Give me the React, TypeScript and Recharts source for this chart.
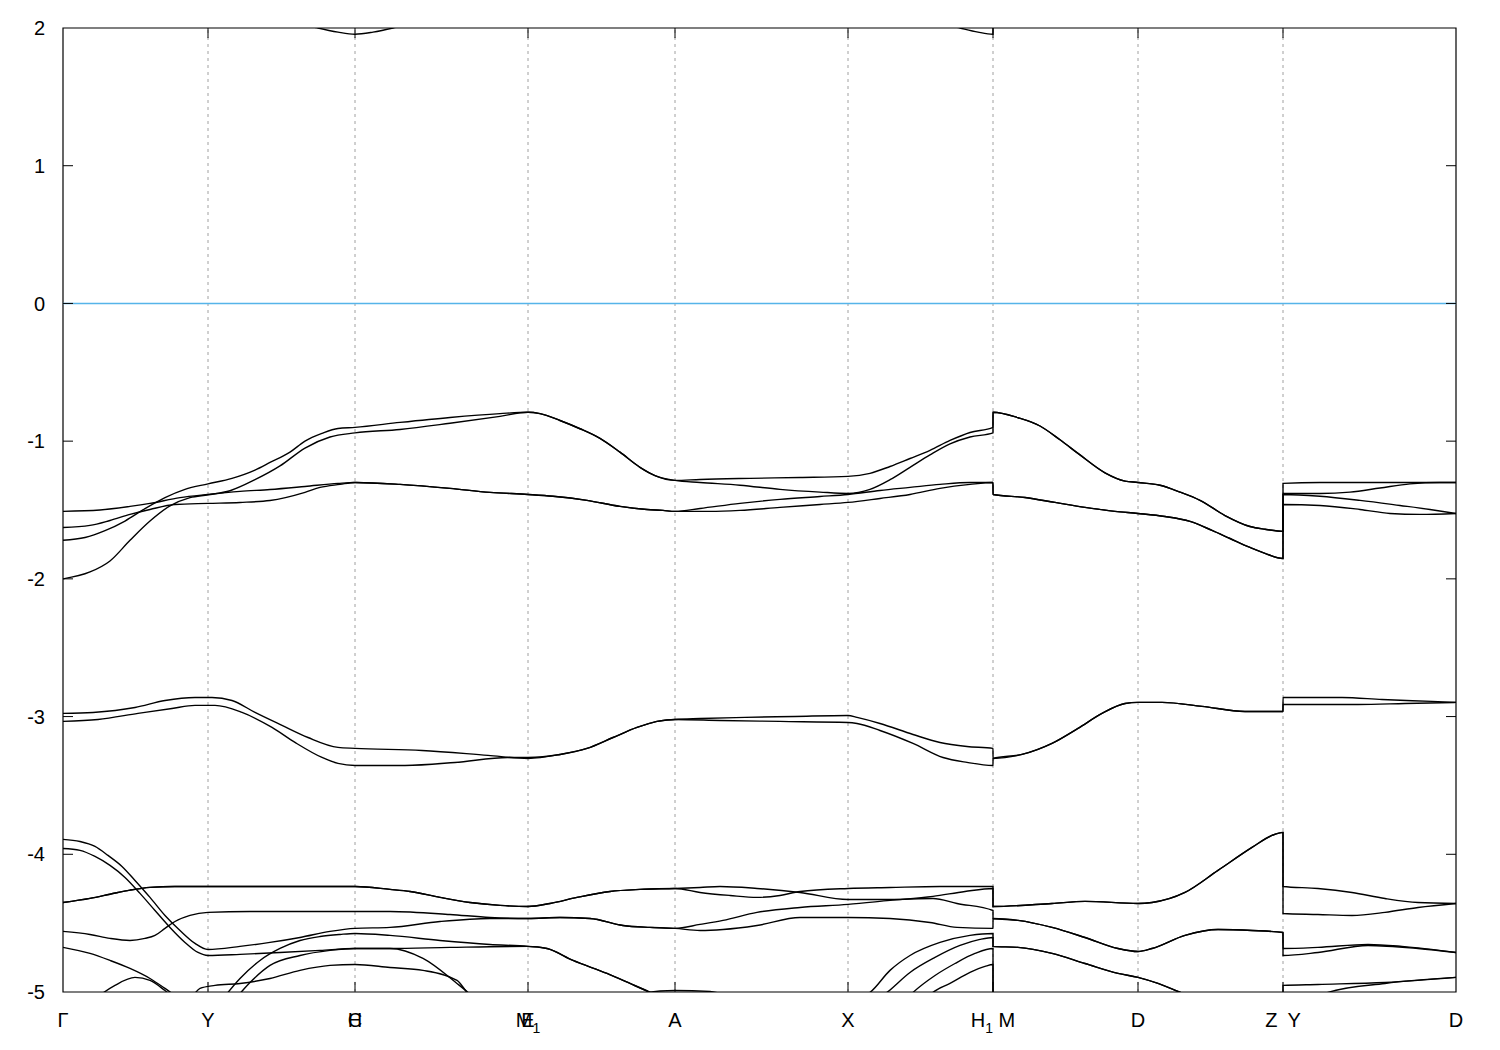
import { LineChart, Line, XAxis, YAxis, ReferenceLine, ReferenceArea } from "recharts";

type Pt = [number, number];

const FONT = '"Liberation Sans", Arial, Helvetica, sans-serif';

// puntos de alta simetría sobre el camino (distancia k, unidades arbitrarias)
const K_POINTS = [0, 1.45, 2.92, 4.65, 6.12, 7.85, 9.3, 10.75, 12.2, 13.93];
// dos etiquetas en el mismo punto se dibujan encimadas, igual que en el original
const K_LABELS: string[][] = [
  ["Γ"], ["Y"], ["H", "C"], ["E", "M_1"], ["A"], ["X"], ["H_1\u00a0M"], ["D"], ["Z\u2002Y"], ["D"],
];
const E_TICKS = [-5, -4, -3, -2, -1, 0, 1, 2];
const K_MAX = 13.93;

// banda de conducción (apenas asoma arriba)
const CB1: Pt[] = [
  [0, 2.9], [1.45, 2.45], [2.3, 2.05], [2.55, 2.0], [2.75, 1.97], [2.92, 1.955], [3.1, 1.97], [3.3, 2.0],
  [3.55, 2.05], [4.65, 2.5], [6.12, 2.7], [7.85, 2.4], [8.7, 2.05], [8.97, 2.0], [9.15, 1.97], [9.3, 1.955],
  [9.3, 2.55], [10.75, 2.75], [12.2, 2.9], [12.2, 2.85], [13.93, 2.75],
];

// grupo de valencia entre -0.8 y -2
const V_MA_UP: Pt[] = [[4.77, -0.8], [4.97, -0.85], [5.17, -0.91], [5.37, -0.98], [5.57, -1.08], [5.77, -1.19], [5.92, -1.25], [6.12, -1.285]];
const V_MDZ_UP: Pt[] = [
  [9.3, -0.79], [9.55, -0.83], [9.77, -0.89], [9.97, -0.99], [10.17, -1.1], [10.42, -1.23], [10.62, -1.29], [10.75, -1.3],
  [10.97, -1.32], [11.17, -1.37], [11.37, -1.43], [11.62, -1.54], [11.87, -1.62], [12.02, -1.64], [12.2, -1.655],
];
const V_CMA_LO: Pt[] = [[3.37, -1.314], [3.87, -1.343], [4.27, -1.372], [4.65, -1.387], [4.9, -1.4], [5.24, -1.43], [5.57, -1.474], [5.84, -1.496], [6.0, -1.503], [6.12, -1.51]];
const V_MDZ_LO: Pt[] = [
  [9.3, -1.387], [9.62, -1.409], [9.92, -1.445], [10.22, -1.481], [10.52, -1.51], [10.75, -1.525], [11.02, -1.547],
  [11.27, -1.583], [11.49, -1.648], [11.67, -1.707], [11.87, -1.772], [12.02, -1.815], [12.2, -1.852],
];

const VB1: Pt[] = [
  [0, -2.0], [0.27, -1.95], [0.47, -1.87], [0.67, -1.72], [0.87, -1.58], [1.07, -1.47], [1.27, -1.41], [1.45, -1.39],
  [1.67, -1.36], [1.92, -1.28], [2.17, -1.18], [2.42, -1.05], [2.67, -0.97], [2.92, -0.94],
  [3.37, -0.915], [3.87, -0.87], [4.37, -0.82], [4.65, -0.79],
  ...V_MA_UP,
  [6.37, -1.3], [6.77, -1.32], [7.17, -1.35], [7.57, -1.37], [7.85, -1.38],
  [8.07, -1.35], [8.27, -1.28], [8.47, -1.19], [8.67, -1.1], [8.87, -1.02], [9.07, -0.97], [9.3, -0.94],
  ...V_MDZ_UP,
  [12.2, -1.38], [12.57, -1.38], [12.87, -1.37], [13.17, -1.34], [13.47, -1.31], [13.77, -1.3], [13.93, -1.3],
];
const VB2: Pt[] = [
  [0, -1.72], [0.22, -1.7], [0.42, -1.65], [0.62, -1.58], [0.82, -1.49], [1.02, -1.41], [1.22, -1.35], [1.45, -1.31],
  [1.69, -1.27], [1.92, -1.21], [2.07, -1.155], [2.27, -1.08], [2.42, -1.0], [2.59, -0.944], [2.75, -0.908], [2.92, -0.9],
  [3.37, -0.864], [3.87, -0.828], [4.37, -0.8], [4.65, -0.79],
  ...V_MA_UP,
  [6.37, -1.278], [6.87, -1.27], [7.37, -1.264], [7.85, -1.256],
  [8.07, -1.234], [8.27, -1.184], [8.47, -1.126], [8.67, -1.067], [8.87, -0.995], [9.07, -0.937], [9.3, -0.9],
  ...V_MDZ_UP,
  [12.2, -1.307], [12.57, -1.3], [13.37, -1.3], [13.93, -1.3],
];
const VB3: Pt[] = [
  [0, -1.51], [0.37, -1.5], [0.67, -1.474], [0.87, -1.452], [1.17, -1.41], [1.45, -1.387],
  [1.77, -1.365], [2.07, -1.351], [2.42, -1.329], [2.75, -1.307], [2.92, -1.3],
  ...V_CMA_LO,
  [6.37, -1.489], [6.77, -1.452], [7.17, -1.423], [7.57, -1.402], [7.85, -1.387],
  [8.17, -1.358], [8.47, -1.336], [8.77, -1.314], [9.07, -1.3], [9.3, -1.3],
  ...V_MDZ_LO,
  [12.2, -1.387], [12.57, -1.4], [12.97, -1.43], [13.37, -1.467], [13.67, -1.496], [13.93, -1.525],
];
const VB4: Pt[] = [
  [0, -1.627], [0.27, -1.612], [0.47, -1.576], [0.67, -1.532], [0.87, -1.496], [1.12, -1.46], [1.45, -1.452],
  [1.77, -1.445], [2.07, -1.431], [2.42, -1.372], [2.57, -1.336], [2.77, -1.314], [2.92, -1.3],
  ...V_CMA_LO,
  [6.47, -1.51], [6.77, -1.503], [7.17, -1.481], [7.57, -1.46], [7.85, -1.445],
  [8.17, -1.416], [8.47, -1.387], [8.77, -1.343], [9.07, -1.314], [9.3, -1.3],
  ...V_MDZ_LO,
  [12.2, -1.46], [12.57, -1.467], [12.97, -1.496], [13.27, -1.525], [13.57, -1.532], [13.93, -1.525],
];

// grupo alrededor de -3
const V_MA_3: Pt[] = [[4.97, -3.275], [5.24, -3.231], [5.5, -3.152], [5.74, -3.079], [5.94, -3.035], [6.12, -3.021]];
const V_MDZ_3: Pt[] = [
  [9.3, -3.304], [9.59, -3.275], [9.89, -3.195], [10.15, -3.086], [10.39, -2.977], [10.62, -2.905], [10.75, -2.897],
  [10.99, -2.897], [11.39, -2.926], [11.82, -2.963], [12.2, -2.963],
];
const VB5: Pt[] = [
  [0, -2.977], [0.3, -2.97], [0.72, -2.934], [1.02, -2.883], [1.32, -2.861], [1.49, -2.861],
  [1.69, -2.883], [1.92, -2.97], [2.19, -3.064], [2.45, -3.152], [2.75, -3.224], [2.92, -3.231],
  [3.59, -3.246], [4.25, -3.282], [4.65, -3.304],
  ...V_MA_3,
  [6.37, -3.014], [6.82, -3.006], [7.32, -2.999], [7.85, -2.992],
  [7.94, -3.006], [8.17, -3.05], [8.5, -3.13], [8.77, -3.188], [9.04, -3.217], [9.3, -3.231],
  ...V_MDZ_3,
  [12.2, -2.861], [12.79, -2.861], [13.19, -2.876], [13.69, -2.89], [13.93, -2.897],
];
const VB6: Pt[] = [
  [0, -3.035], [0.35, -3.021], [0.75, -2.977], [1.09, -2.941], [1.32, -2.919], [1.52, -2.919],
  [1.79, -2.97], [2.09, -3.079], [2.32, -3.188], [2.59, -3.297], [2.75, -3.34], [2.92, -3.355],
  [3.42, -3.355], [3.92, -3.333], [4.45, -3.297], [4.65, -3.297],
  ...V_MA_3,
  [6.57, -3.028], [7.17, -3.035], [7.85, -3.043],
  [7.94, -3.05], [8.17, -3.101], [8.5, -3.195], [8.8, -3.297], [9.04, -3.333], [9.3, -3.355],
  ...V_MDZ_3,
  [12.2, -2.912], [12.95, -2.912], [13.42, -2.905], [13.93, -2.897],
];

// grupo de abajo (-4 a -5 y más)
const G_TOP_GA: Pt[] = [
  [0, -4.35], [0.27, -4.32], [0.47, -4.29], [0.67, -4.26], [0.87, -4.24], [1.12, -4.234], [1.45, -4.234], [1.97, -4.234],
  [2.57, -4.234], [2.92, -4.234], [3.27, -4.255], [3.47, -4.27], [3.77, -4.313], [4.07, -4.35], [4.37, -4.371], [4.65, -4.379],
  [4.87, -4.357], [5.14, -4.313], [5.47, -4.27], [5.77, -4.255], [6.12, -4.248],
];
const G_MDZ_A: Pt[] = [[9.3, -4.379], [9.89, -4.357], [10.22, -4.342], [10.75, -4.357], [10.89, -4.35], [11.22, -4.277], [11.55, -4.117], [11.89, -3.95], [12.09, -3.863], [12.2, -3.841]];
const G_MDZ_B: Pt[] = [[9.3, -4.466], [9.55, -4.48], [9.89, -4.531], [10.22, -4.604], [10.55, -4.684], [10.75, -4.706], [10.89, -4.684], [11.22, -4.589], [11.55, -4.546], [11.89, -4.553], [12.2, -4.568]];
const G_MDZ_C: Pt[] = [[9.3, -4.669], [9.55, -4.676], [9.89, -4.72], [10.22, -4.793], [10.55, -4.865], [10.75, -4.894], [10.95, -4.938], [11.15, -4.996], [11.37, -5.061], [11.77, -5.119], [12.2, -5.148]];
const G_MA_PAIR: Pt[] = [[4.97, -4.459], [5.27, -4.466], [5.6, -4.517], [5.87, -4.531], [6.12, -4.538]];
const G_MA_DROP: Pt[] = [[4.84, -4.684], [5.1, -4.771], [5.44, -4.865], [5.67, -4.938], [5.87, -5.003], [6.07, -5.076]];

const G1: Pt[] = [
  ...G_TOP_GA,
  [6.37, -4.277], [6.67, -4.299], [6.94, -4.313], [7.17, -4.299], [7.37, -4.27], [7.85, -4.248], [8.27, -4.241], [8.77, -4.234], [9.3, -4.234],
  ...G_MDZ_A,
  [12.2, -4.234], [12.55, -4.248], [12.89, -4.277], [13.22, -4.321], [13.55, -4.35], [13.93, -4.357],
];
const G2: Pt[] = [
  [0, -3.892], [0.17, -3.907], [0.32, -3.943], [0.45, -4.008], [0.59, -4.088], [0.72, -4.19], [0.87, -4.313], [1.02, -4.444],
  [1.17, -4.553], [1.32, -4.647], [1.45, -4.691], [1.77, -4.669], [2.07, -4.64], [2.37, -4.604], [2.67, -4.56], [2.92, -4.538],
  [3.27, -4.531], [3.77, -4.488], [4.27, -4.466], [4.65, -4.466],
  ...G_MA_PAIR,
  [6.37, -4.509], [6.6, -4.48], [6.94, -4.422], [7.37, -4.386], [7.85, -4.364], [8.27, -4.335], [8.7, -4.306], [9.02, -4.27], [9.3, -4.248],
  ...G_MDZ_A,
  [12.2, -4.43], [12.55, -4.437], [12.89, -4.444], [13.22, -4.422], [13.55, -4.386], [13.93, -4.357],
];
const G3: Pt[] = [
  [0, -4.56], [0.27, -4.582], [0.47, -4.611], [0.67, -4.626], [0.82, -4.611], [0.92, -4.589], [1.02, -4.538], [1.12, -4.488],
  [1.27, -4.444], [1.45, -4.422], [1.87, -4.415], [2.37, -4.415], [2.92, -4.415], [3.27, -4.415], [3.87, -4.437], [4.27, -4.459], [4.65, -4.466],
  ...G_MA_PAIR,
  [6.37, -4.553], [6.6, -4.546], [6.94, -4.517], [7.37, -4.459], [7.85, -4.459], [8.27, -4.466], [8.67, -4.495], [8.94, -4.531], [9.3, -4.538],
  ...G_MDZ_B,
  [12.2, -4.684], [12.55, -4.676], [13.05, -4.655], [13.39, -4.669], [13.93, -4.713],
];
const G4: Pt[] = [
  ...G_TOP_GA,
  [6.37, -4.241], [6.57, -4.234], [6.94, -4.248], [7.37, -4.277], [7.85, -4.328], [8.27, -4.328], [8.7, -4.321], [8.94, -4.357], [9.3, -4.408],
  ...G_MDZ_B,
  [12.2, -4.735], [12.55, -4.713], [13.05, -4.662], [13.55, -4.684], [13.93, -4.713],
];
const G5: Pt[] = [
  [0, -3.958], [0.17, -3.972], [0.32, -4.016], [0.47, -4.081], [0.62, -4.168], [0.77, -4.284], [0.92, -4.408], [1.07, -4.531],
  [1.22, -4.64], [1.35, -4.713], [1.45, -4.735], [1.77, -4.727], [2.17, -4.713], [2.57, -4.698], [2.92, -4.684], [3.27, -4.684],
  [3.87, -4.676], [4.65, -4.669],
  ...G_MA_DROP,
  [6.37, -5.148], [6.97, -5.207], [7.57, -5.134], [7.87, -5.061], [8.07, -5.003], [8.27, -4.843], [8.47, -4.735], [8.77, -4.64], [9.07, -4.589], [9.3, -4.575],
  ...G_MDZ_C,
  [12.2, -4.952], [12.55, -4.945], [13.22, -4.931], [13.93, -4.894],
];
const G6: Pt[] = [
  [0, -4.676], [0.27, -4.72], [0.47, -4.771], [0.67, -4.829], [0.87, -4.902], [1.02, -4.974], [1.12, -5.025], [1.27, -5.098],
  [1.45, -5.119], [1.57, -5.076], [1.65, -5.003], [1.77, -4.902], [1.97, -4.771], [2.17, -4.684], [2.37, -4.626], [2.57, -4.597],
  [2.77, -4.582], [2.92, -4.575], [3.27, -4.589], [3.77, -4.626], [4.27, -4.655], [4.65, -4.669],
  ...G_MA_DROP,
  [6.57, -5.17], [7.37, -5.207], [7.97, -5.134], [8.24, -5.003], [8.47, -4.858], [8.72, -4.749], [8.97, -4.662], [9.17, -4.618], [9.3, -4.604],
  ...G_MDZ_C,
  [12.2, -5.134], [12.37, -5.098], [12.65, -5.003], [13.22, -4.938], [13.93, -4.894],
];
const G7: Pt[] = [
  [0, -5.352], [0.87, -5.279], [1.57, -5.134], [1.75, -5.025], [1.87, -4.931], [2.07, -4.807], [2.37, -4.735], [2.67, -4.698],
  [2.92, -4.684], [3.27, -4.684], [3.6, -4.756], [3.94, -4.938], [4.05, -5.003], [4.17, -5.083], [4.77, -5.207], [5.37, -5.134],
  [5.77, -5.011], [6.12, -4.989], [6.47, -4.996], [6.77, -5.061], [7.17, -5.148], [7.87, -5.17], [8.37, -5.098], [8.5, -5.003],
  [8.72, -4.88], [8.92, -4.793], [9.12, -4.72], [9.3, -4.684],
  [9.3, -5.207], [10.75, -5.279], [12.2, -5.279], [13.93, -5.32],
];
const G8: Pt[] = [
  [0, -5.279], [0.27, -5.098], [0.37, -5.025], [0.52, -4.952], [0.72, -4.894], [0.87, -4.916], [1.02, -4.989], [1.15, -5.061],
  [1.22, -5.069], [1.29, -5.032], [1.37, -4.974], [1.52, -4.952], [1.77, -4.938], [2.07, -4.902], [2.37, -4.843], [2.67, -4.807],
  [2.92, -4.8], [3.27, -4.822], [3.6, -4.843], [3.94, -4.916], [4.04, -5.003], [4.17, -5.098], [5.37, -5.279], [7.87, -5.279],
  [8.57, -5.098], [8.7, -5.003], [8.87, -4.938], [9.07, -4.858], [9.22, -4.814], [9.3, -4.8],
  [9.3, -5.279], [13.93, -5.352],
];

const BANDAS: Pt[][] = [CB1, VB1, VB2, VB3, VB4, VB5, VB6, G1, G2, G3, G4, G5, G6, G7, G8];

// ticks hacia adentro, en unidades de datos (~10 px)
const TICK_K = 0.1;
const TICK_E = 0.073;

// En los saltos (H1|M, Z|Y) hay dos puntos con el mismo k; la curva monótona
// necesita x estrictamente creciente, así que se corre el segundo un pelo.
function aSerie(b: Pt[]) {
  let prev = -Infinity;
  return b.map(([k, e]) => {
    const kk = k <= prev ? prev + 1e-4 : k;
    prev = kk;
    return { k: kk, e };
  });
}

function etiqueta(s: string) {
  const partes = s.split(/_(\d)/);
  return partes.map((p, i) =>
    i % 2 === 1 ? (
      <tspan key={i} dy={6} fontSize={14}>{p}</tspan>
    ) : (
      <tspan key={i} dy={i > 0 ? -6 : 0}>{p}</tspan>
    )
  );
}

function KTick(props: any) {
  const { x, y, index } = props;
  const labels = K_LABELS[index] ?? [];
  return (
    <g>
      {labels.map((l, i) => (
        <text key={i} x={x} y={y + 35} textAnchor="middle" fontSize={20} fontFamily={FONT} fill="#000">
          {etiqueta(l)}
        </text>
      ))}
    </g>
  );
}

export default function App() {
  const interiores = K_POINTS.slice(1, -1);
  const yInteriores = E_TICKS.slice(1, -1);
  return (
    <div style={{ position: "absolute", left: 0, top: 0, width: 1500, height: 1050, background: "#fff" }}>
      <LineChart width={1500} height={1050} margin={{ top: 28, right: 44, bottom: 0, left: 0 }}>
        <XAxis
          dataKey="k"
          type="number"
          domain={[0, K_MAX]}
          ticks={K_POINTS}
          interval={0}
          allowDataOverflow
          height={58}
          axisLine={false}
          tickLine={false}
          tickSize={0}
          tickMargin={0}
          tick={<KTick />}
        />
        <YAxis
          type="number"
          domain={[-5, 2]}
          ticks={E_TICKS}
          interval={0}
          allowDataOverflow
          width={63}
          axisLine={false}
          tickLine={false}
          tickSize={0}
          tickMargin={18}
          tick={{ fill: "#000", fontSize: 20, fontFamily: FONT }}
        />
        {interiores.map((k) => (
          <ReferenceLine key={`g${k}`} x={k} stroke="#a0a0a0" strokeDasharray="3 4" strokeWidth={1} />
        ))}
        <ReferenceLine y={0} stroke="#56b4e9" strokeWidth={1.5} />
        {BANDAS.map((b, i) => (
          <Line
            key={i}
            data={aSerie(b)}
            dataKey="e"
            type="monotoneX"
            stroke="#000"
            strokeWidth={1.4}
            dot={false}
            activeDot={false}
            isAnimationActive={false}
          />
        ))}
        <ReferenceArea x1={0} x2={K_MAX} y1={-5} y2={2} fill="none" stroke="#000" strokeWidth={1.2} />
        {yInteriores.map((v) => (
          <ReferenceLine key={`yl${v}`} segment={[{ x: 0, y: v }, { x: TICK_K, y: v }]} stroke="#000" />
        ))}
        {yInteriores.map((v) => (
          <ReferenceLine key={`yr${v}`} segment={[{ x: K_MAX - TICK_K, y: v }, { x: K_MAX, y: v }]} stroke="#000" />
        ))}
        {interiores.map((k) => (
          <ReferenceLine key={`xb${k}`} segment={[{ x: k, y: -5 }, { x: k, y: -5 + TICK_E }]} stroke="#000" />
        ))}
        {interiores.map((k) => (
          <ReferenceLine key={`xt${k}`} segment={[{ x: k, y: 2 }, { x: k, y: 2 - TICK_E }]} stroke="#000" />
        ))}
      </LineChart>
    </div>
  );
}
